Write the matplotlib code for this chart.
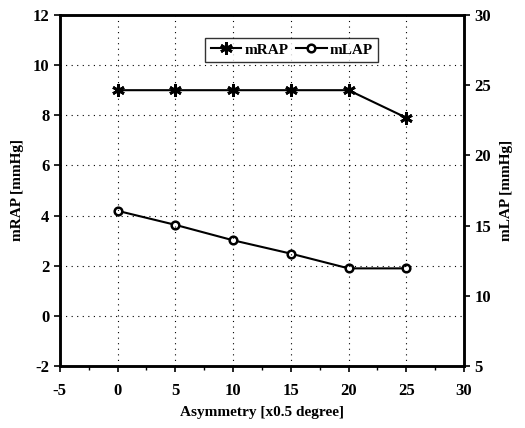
import matplotlib
matplotlib.use("Agg")
import matplotlib.pyplot as plt
from matplotlib.ticker import MultipleLocator

x = [0, 5, 10, 15, 20, 25]
mrap = [9.0, 9.0, 9.0, 9.0, 9.0, 7.9]
mlap = [16.05, 15.05, 13.95, 13.0, 11.95, 11.95]
xticks = [-5, 0, 5, 10, 15, 20, 25, 30]
yticks_left = [-2, 0, 2, 4, 6, 8, 10, 12]
yticks_right = [5, 10, 15, 20, 25, 30]

plt.rcParams['font.family'] = ['Liberation Serif', 'DejaVu Serif']
plt.rcParams['font.weight'] = 'bold'
plt.rcParams['axes.unicode_minus'] = False

fig = plt.figure(figsize=(5.25, 4.28), dpi=100)
ax = fig.add_axes([0.114, 0.145, 0.77, 0.82])
ax2 = ax.twinx()

ax.set_xlim(-5, 30)
ax.set_ylim(-2, 12)
ax2.set_ylim(5, 30)
ax.set_xticks(xticks)
ax.set_yticks(yticks_left)
ax2.set_yticks(yticks_right)
ax.xaxis.set_minor_locator(MultipleLocator(2.5))

# grid
for gx in xticks[1:-1]:
    ax.axvline(gx, color='black', lw=0.8, ls=(0, (1, 4)), zorder=1)
for gy in yticks_left[1:-1]:
    ax.axhline(gy, color='black', lw=0.8, ls=(0, (1, 4)), zorder=1)

l1, = ax.plot(x, mrap, color='black', lw=1.5, marker=(6, 2, 0), ms=9, mew=2,
              label='mRAP', zorder=3)
l2, = ax2.plot(x, mlap, color='black', lw=1.5, marker='o', ms=5.5, mfc='white',
               mec='black', mew=1.8, label='mLAP', zorder=3)

for a in (ax, ax2):
    for s in a.spines.values():
        s.set_linewidth(1.8)
ax.tick_params(axis='both', which='major', direction='out', length=4, width=1.2,
               labelsize=12)
ax.tick_params(axis='x', which='major', pad=8)
ax.tick_params(axis='x', which='minor', direction='out', length=3, width=1.0)
ax2.tick_params(axis='y', direction='out', length=4, width=1.2, labelsize=12)

ax.set_xlabel('Asymmetry [x0.5 degree]', fontsize=11, fontweight='bold', labelpad=5)
ax.set_ylabel('mRAP [mmHg]', fontsize=11, fontweight='bold', labelpad=6)
ax2.set_ylabel('mLAP [mmHg]', fontsize=11, fontweight='bold', labelpad=6)

leg = ax.legend(handles=[l1, l2], loc='upper left', bbox_to_anchor=(0.36, 0.935),
                ncol=2, frameon=True, fancybox=False, edgecolor='black',
                fontsize=11, handlelength=2.0, columnspacing=0.5,
                handletextpad=0.2, borderpad=0.35, borderaxespad=0)
leg.get_frame().set_linewidth(1.0)
leg.set_zorder(5)
ax.set_zorder(ax2.get_zorder() + 1)
ax.patch.set_visible(False)

fig.savefig('out.png', dpi=100)
